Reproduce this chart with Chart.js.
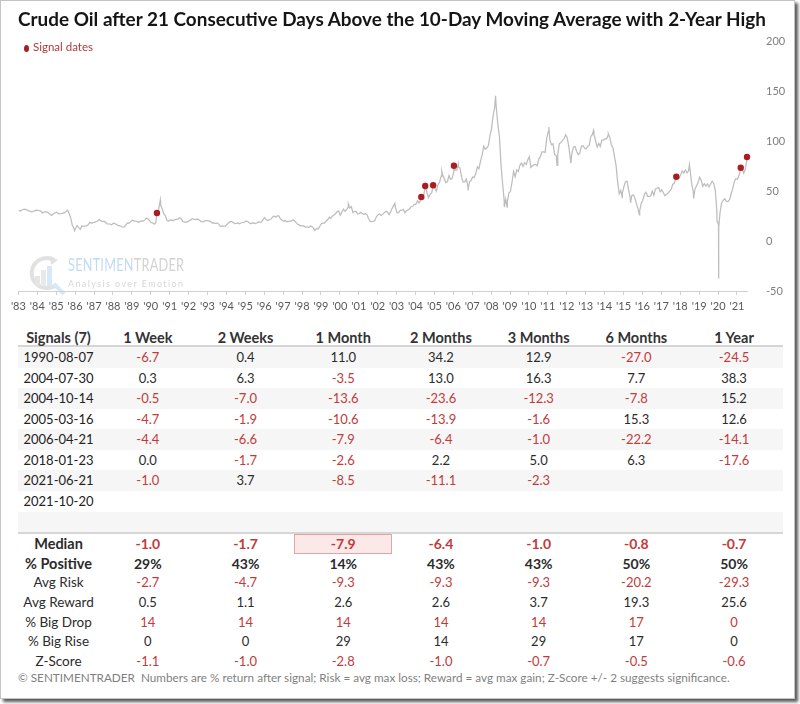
<!DOCTYPE html>
<html><head><meta charset="utf-8">
<script src="https://cdn.jsdelivr.net/npm/chart.js@4.4.1/dist/chart.umd.min.js"></script>
<style>
html,body{margin:0;padding:0;background:#fff;}
body{width:800px;height:704px;position:relative;overflow:hidden;font-family:Lato,"Open Sans",sans-serif;}
#frame{position:absolute;left:0;top:0;width:793px;height:697px;border:1px solid #c4c4c4;box-shadow:3px 3px 3px rgba(0,0,0,0.65);background:#fff;}
#chartBox{position:absolute;left:0;top:0;width:800px;height:318px;}
#title{position:absolute;left:18px;top:7px;line-height:24px;font-weight:700;font-size:19.5px;color:#151515;white-space:nowrap;transform-origin:0 50%;}
#legend{position:absolute;left:24px;top:40px;height:14px;line-height:14px;font-size:11.5px;color:#b03a3a;white-space:nowrap;}
#legend .dot{display:inline-block;width:5px;height:7px;border-radius:50%;background:#a61e22;margin-right:4px;vertical-align:-1px;}
#wm{position:absolute;left:24px;top:254px;width:170px;height:42px;pointer-events:none;}
#wmText1{position:absolute;left:44px;top:0px;font-size:17px;line-height:22px;white-space:nowrap;transform-origin:0 0;letter-spacing:0.3px;}
#wmText2{position:absolute;left:44px;top:23px;font-size:10px;line-height:12px;color:#d6d6d6;white-space:nowrap;letter-spacing:1.6px;transform-origin:0 0;}
.row{position:absolute;left:18px;width:765px;}
.cell{position:absolute;top:0;text-align:center;white-space:nowrap;}
#footer{position:absolute;left:18px;top:671px;font-size:11px;line-height:14px;color:#7f7f7f;white-space:nowrap;transform-origin:0 50%;}
</style></head>
<body>
<div id="frame"></div>
<div id="chartBox"><canvas id="c" width="800" height="318"></canvas></div>
<div id="wm">
  <svg width="44" height="42" viewBox="0 0 44 42" style="position:absolute;left:0;top:0;opacity:0.55">
    <path d="M30 6 A15 15 0 1 0 33 30" fill="none" stroke="#c9c9c9" stroke-width="4"/>
    <polygon points="26,2 34,6 27,11" fill="#c9c9c9"/>
    <rect x="11" y="22" width="5" height="10" fill="#cfcfcf"/>
    <rect x="17" y="16" width="5" height="16" fill="#d8d8d8"/>
    <rect x="23" y="12" width="5" height="20" fill="#b9d5ee"/>
    <line x1="30" y1="30" x2="40" y2="40" stroke="#b9d5ee" stroke-width="4"/>
  </svg>
  <div id="wmText1"><span style="color:#c3dbf0">SENTIMEN</span><span style="color:#d2d2d2">TRADER</span></div>
  <div id="wmText2">Analysis over Emotion</div>
</div>
<div id="title">Crude Oil after 21 Consecutive Days Above the 10-Day Moving Average with 2-Year High</div>
<div id="legend"><span class="dot"></span>Signal dates</div>
<div id="table"></div>
<div id="footer">© SENTIMENTRADER&nbsp; Numbers are % return after signal; Risk = avg max loss; Reward = avg max gain; Z-Score +/- 2 suggests significance.</div>
<script>
// ---------------- DATA ----------------
// WTI crude oil, monthly readings starting 1983-04
const wti1980s = [
  30.6,30.0,31.0,31.7,31.9,31.1,30.4,29.8,29.2,
  29.7,30.1,30.8,30.6,30.5,29.9,28.0,28.8,29.3,28.8,28.1,26.5,
  25.6,27.3,28.2,28.8,27.6,27.1,27.3,27.8,28.3,29.5,30.8,27.2,
  22.9,15.4,12.6,12.8,15.4,13.4,11.6,15.1,14.9,14.9,15.2,16.1,
  18.7,17.7,18.3,18.6,19.4,20.0,21.4,20.3,19.5,19.8,18.9,17.2,
  17.0,16.9,16.2,17.9,17.4,16.5,15.5,15.5,14.5,13.8,14.0,16.3,
  18.0,17.8,19.4,21.0,20.0,20.0,19.6,18.5,19.6,20.1,19.8,21.1
];
const wti1990s = [
  22.9,22.1,20.4,18.4,18.2,16.9,18.6,27.2,33.7,35.9,32.3,27.3,
  25.2,20.5,19.9,20.8,21.2,20.2,21.4,21.7,21.9,23.2,22.5,19.5,
  18.8,19.0,18.9,20.2,20.9,22.4,21.8,21.4,21.9,21.7,20.3,19.4,
  19.1,20.1,20.3,20.3,19.9,19.1,17.9,18.0,17.5,18.1,16.7,14.5,
  15.0,14.8,14.7,16.4,17.9,19.1,19.6,18.5,17.5,17.7,18.1,17.2,
  18.0,18.5,18.6,19.9,19.7,18.4,17.3,17.9,18.0,17.4,18.0,19.0,
  18.9,19.1,21.3,23.5,21.2,20.4,21.3,21.9,23.9,24.9,23.7,25.2,
  25.1,22.2,20.9,19.7,20.8,19.3,19.7,19.9,19.8,21.3,20.2,18.3,
  16.7,16.1,15.0,15.4,14.9,13.7,14.2,13.5,15.0,14.4,12.9,11.3,
  12.5,12.0,14.7,17.3,17.8,17.9,20.1,21.3,23.9,22.6,25.0,26.1
];
const wti2000s = [
  27.2,29.4,29.9,25.7,28.8,31.8,29.7,31.3,33.9,33.1,34.4,28.5,
  29.6,29.6,27.2,27.4,28.6,27.6,26.4,27.4,26.2,22.2,19.6,19.3,
  19.7,20.7,24.4,26.3,27.0,25.5,26.9,28.4,29.7,28.9,26.3,29.4,
  32.9,35.9,33.6,28.3,28.1,30.7,30.8,31.6,28.3,30.3,31.1,32.1,
  34.3,34.7,36.7,36.7,40.3,38.0,40.7,44.9,45.9,53.1,48.5,43.3,
  46.8,48.0,54.3,53.0,49.8,56.3,58.7,65.0,65.6,62.4,58.3,59.4,
  65.5,61.6,62.7,69.4,70.8,70.9,74.4,73.0,63.8,58.9,59.1,61.9,
  54.6,59.3,60.4,63.9,63.5,67.5,74.1,72.4,79.9,85.8,94.8,91.7,
  93.0,95.4,105.5,112.6,125.4,133.9,133.4,116.7,104.1,76.6,57.3,41.1,
  41.7,39.1,47.9,49.7,59.0,69.6,64.2,71.1,69.4,75.7,78.0,74.5
];
const wti2010s = [
  78.3,76.4,81.2,84.3,73.7,75.3,76.3,76.6,75.2,81.9,84.3,89.2,
  89.2,88.6,102.9,109.5,100.9,96.3,97.3,86.3,85.5,86.3,97.2,98.6,
  100.3,102.2,106.2,103.3,94.7,82.3,87.9,94.1,94.5,89.5,86.5,87.9,
  94.8,95.3,92.9,92.0,94.5,95.8,104.6,106.6,106.3,100.5,93.9,97.6,
  94.6,100.8,100.8,102.1,102.2,105.8,103.6,96.5,93.2,84.4,75.8,59.3,
  47.2,50.6,47.8,54.5,59.3,59.8,50.9,42.9,45.5,46.2,42.7,37.2,
  31.7,30.3,37.6,40.8,46.7,48.8,44.7,44.7,45.2,49.8,45.7,52.0,
  52.5,53.5,49.3,51.1,48.5,45.2,46.6,48.0,49.8,51.6,56.6,57.9,
  63.7,62.2,62.7,66.3,70.0,67.9,71.0,68.1,70.2,70.8,57.0,49.5,
  51.4,54.9,58.2,63.9,60.8,54.7,57.4,54.8,57.0,54.0,57.0,59.8
];
const wti2020s = [
  57.5,50.5,29.2,16.6,28.6,38.3,40.7,42.3,39.6,39.4,41.4,47.0,
  52.1,59.0,62.3,61.7,65.2,71.4,72.5,67.7,71.6,81.5
];
// daily extremes
const extremeDates  = ['1986-03-31','1990-10-11','1998-12-10','2000-09-20','2003-03-07','2004-10-22','2005-08-30','2006-07-14','2007-01-18','2008-07-03','2008-12-19','2009-02-12','2011-04-29','2011-10-04','2012-06-27','2013-09-06','2014-06-20','2015-03-17','2015-08-24','2016-02-11','2018-10-03','2018-12-24','2020-03-18','2020-04-20','2020-04-22'];
const extremeValues = [10.4, 41.0, 10.7, 37.2, 37.8, 55.2, 69.8, 77.0, 50.5, 145.3, 33.9, 34.0, 113.9, 75.7, 77.7, 110.5, 107.3, 43.5, 38.2, 26.2, 76.4, 42.5, 20.4, -37.6, 13.8];
// signal dates and prices
const signalDates  = ['1990-08-07','2004-07-30','2004-10-14','2005-03-16','2006-04-21','2018-01-23','2021-06-21','2021-10-20'];
const signalPrices = [28.0, 44.0, 55.0, 55.7, 75.3, 64.3, 73.3, 84.0];
// x-axis tick labels
const yearTickLabels = ["'83","'84","'85","'86","'87","'88","'89","'90","'91","'92","'93","'94","'95","'96","'97","'98","'99","'00","'01","'02","'03","'04","'05","'06","'07","'08","'09","'10","'11","'12","'13","'14","'15","'16","'17","'18","'19","'20","'21"];
const yTicks = [-50, 0, 50, 100, 150, 200];

// table data
const horizons = ['1 Week','2 Weeks','1 Month','2 Months','3 Months','6 Months','1 Year'];
const ret19900807 = [-6.7, 0.4, 11.0, 34.2, 12.9, -27.0, -24.5];
const ret20040730 = [0.3, 6.3, -3.5, 13.0, 16.3, 7.7, 38.3];
const ret20041014 = [-0.5, -7.0, -13.6, -23.6, -12.3, -7.8, 15.2];
const ret20050316 = [-4.7, -1.9, -10.6, -13.9, -1.6, 15.3, 12.6];
const ret20060421 = [-4.4, -6.6, -7.9, -6.4, -1.0, -22.2, -14.1];
const ret20180123 = [0.0, -1.7, -2.6, 2.2, 5.0, 6.3, -17.6];
const ret20210621 = [-1.0, 3.7, -8.5, -11.1, -2.3, null, null];
const ret20211020 = [null, null, null, null, null, null, null];
const statMedian     = [-1.0, -1.7, -7.9, -6.4, -1.0, -0.8, -0.7];
const statPctPos     = [29, 43, 14, 43, 43, 50, 50];
const statAvgRisk    = [-2.7, -4.7, -9.3, -9.3, -9.3, -20.2, -29.3];
const statAvgReward  = [0.5, 1.1, 2.6, 2.6, 3.7, 19.3, 25.6];
const statBigDrop    = [14, 14, 14, 14, 14, 17, 0];
const statBigRise    = [0, 0, 29, 14, 29, 17, 0];
const statZScore     = [-1.1, -1.0, -2.8, -1.0, -0.7, -0.5, -0.6];

// ---------------- BUILD ----------------
function toYear(s){const p=s.split('-').map(Number);const t=Date.UTC(p[0],p[1]-1,p[2]);const a=Date.UTC(p[0],0,1),b=Date.UTC(p[0]+1,0,1);return p[0]+(t-a)/(b-a);}
const monthly = [].concat(wti1980s, wti1990s, wti2000s, wti2010s, wti2020s);
const linePts = monthly.map((v,i)=>{const m=1983*12+3+i;return {x:Math.floor(m/12)+((m%12)+0.5)/12,y:v};});
extremeDates.forEach((d,i)=>linePts.push({x:toYear(d),y:extremeValues[i]}));
signalDates.forEach((d,i)=>linePts.push({x:toYear(d),y:signalPrices[i]}));
linePts.sort((a,b)=>a.x-b.x);
const sigPts = signalDates.map((d,i)=>({x:toYear(d),y:signalPrices[i]}));
const tickPositions = yearTickLabels.map((l,i)=>1983.27+i);

new Chart(document.getElementById('c'),{
  type:'line',
  data:{datasets:[
    {label:'Signal dates',type:'scatter',data:sigPts,pointRadius:3.2,pointBackgroundColor:'#a81e22',pointBorderWidth:0,showLine:false,order:0,clip:false},
    {label:'Crude Oil',data:linePts,borderColor:'#bdbdbd',borderWidth:1.25,pointRadius:0,tension:0,fill:false,order:1,clip:false}
  ]},
  options:{
    responsive:false,animation:false,devicePixelRatio:1,
    layout:{padding:{left:18,right:0,top:41,bottom:0}},
    plugins:{legend:{display:false},title:{display:false},tooltip:{enabled:false}},
    scales:{
      x:{type:'linear',min:1983.25,max:2021.8,
        afterBuildTicks:s=>{s.ticks=tickPositions.map(v=>({value:v}));},
        afterFit:s=>{s.height=27;},
        ticks:{autoSkip:false,maxRotation:0,minRotation:0,padding:5,color:'#595959',font:{family:'Lato',size:11},callback:(v,i)=>yearTickLabels[i]},
        grid:{display:true,drawOnChartArea:false,drawTicks:true,tickLength:4,color:'#d0d0d0'},
        border:{display:true,color:'#d0d0d0'}},
      y:{position:'right',min:-50,max:200,
        afterBuildTicks:s=>{s.ticks=yTicks.map(v=>({value:v}));},
        afterFit:s=>{s.width=53;},
        ticks:{padding:11,color:'#7f7f7f',font:{family:'Lato',size:11}},
        grid:{display:false},border:{display:false}}
    }
  }
});

// table
const RED='#c23a3a', DARK='#2b2b2b';
const colW=[81,97.7,97.7,97.7,97.7,97.7,97.7,97.7];
const colL=[0];for(let i=1;i<8;i++)colL.push(colL[i-1]+colW[i-1]);
const tbl=document.getElementById('table');
function addRow(top,h,bg,cells,extra){
  const r=document.createElement('div');r.className='row';r.style.top=top+'px';r.style.height=h+'px';
  if(bg)r.style.background=bg;
  if(extra)Object.assign(r.style,extra);
  cells.forEach((c,i)=>{
    const d=document.createElement('div');d.className='cell';
    d.style.left=colL[i]+'px';d.style.width=colW[i]+'px';d.style.height=h+'px';d.style.lineHeight=h+'px';
    d.style.color=c.color||DARK;d.style.fontSize=(c.size||13)+'px';d.style.fontWeight=c.bold?'700':'400';
    if(c.box){d.style.boxSizing='border-box';d.style.background='#fbe8e8';d.style.border='1px solid #e7a3a3';d.style.lineHeight=(h-2)+'px';}
    d.textContent=c.text;r.appendChild(d);
  });
  tbl.appendChild(r);
}
const fmt1=v=>v===null?'':v.toFixed(1);
addRow(329,18,null,[{text:'Signals ('+ (signalDates.length-1) +')',bold:true,size:14.5,color:'#333'}].concat(horizons.map(h=>({text:h,bold:true,size:14.5,color:'#333'}))),{borderBottom:'2px solid #d6d6d6',height:'16px'});
const rows=[ret19900807,ret20040730,ret20041014,ret20050316,ret20060421,ret20180123,ret20210621,ret20211020];
const RH=20.57;
rows.forEach((vals,k)=>{
  addRow(347+k*RH,RH,k%2===0?'#f6f6f6':null,[{text:signalDates[k],color:'#222'}].concat(vals.map(v=>({text:fmt1(v),color:(v!==null&&v<0)?RED:DARK}))));
});
addRow(347+8*RH,RH,'#f6f6f6',[{text:''}],{borderBottom:'2px solid #d6d6d6'});
const SH=19.65, S0=534;
const stats=[
  ['Median',statMedian,v=>fmt1(v),v=>v<0?RED:DARK,true],
  ['% Positive',statPctPos,v=>v+'%',v=>DARK,true],
  ['Avg Risk',statAvgRisk,v=>fmt1(v),v=>v<0?RED:DARK,false],
  ['Avg Reward',statAvgReward,v=>fmt1(v),v=>v<0?RED:DARK,false],
  ['% Big Drop',statBigDrop,v=>String(v),v=>RED,false],
  ['% Big Rise',statBigRise,v=>String(v),v=>DARK,false],
  ['Z-Score',statZScore,v=>fmt1(v),v=>v<0?RED:DARK,false]
];
stats.forEach((s,k)=>{
  const bold=s[4];
  addRow(S0+k*SH,SH,null,[{text:s[0],bold:bold,size:bold?14.5:13.5,color:'#2b2b2b'}].concat(s[1].map((v,i)=>({text:s[2](v),color:s[3](v),bold:bold,size:bold?14:13,box:(k===0&&i===2)}))));
});

// fit widths of title, footer and watermark text
function fitW(id,w){const e=document.getElementById(id);const cw=e.scrollWidth;e.style.transform='scaleX('+(w/cw)+')';}
fitW('title',748);
fitW('footer',712);
fitW('wmText1',116);
fitW('wmText2',116);
</script>
</body></html>
